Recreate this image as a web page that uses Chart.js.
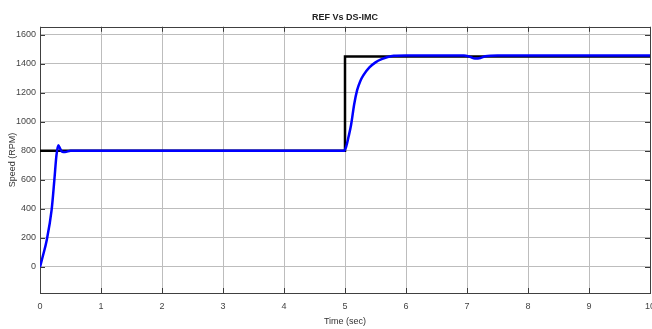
<!DOCTYPE html>
<html>
<head>
<meta charset="utf-8">
<script src="https://cdn.jsdelivr.net/npm/chart.js@4/dist/chart.umd.min.js"></script>
<style>
  html, body { margin: 0; padding: 0; background: #fff; }
  #wrap { width: 652px; height: 329px; }
</style>
</head>
<body>
<div id="wrap"><canvas id="chart" width="652" height="329"></canvas></div>
<script>
// REF Vs DS-IMC speed response

const refTime = [0, 5, 5, 10];
const refSpeed = [800, 800, 1450, 1450];

const imcTime = [0, 0.05, 0.11, 0.19, 0.235, 0.27, 0.3, 0.33, 0.36, 0.41, 0.5,
    4.98, 5.02, 5.06, 5.1, 5.15, 5.2, 5.25, 5.3, 5.4, 5.5, 5.6, 5.7, 5.8, 6.0,
    6.95, 7.05, 7.13, 7.22, 7.3, 7.5, 10];
const imcSpeed = [0, 80, 184, 391, 598, 770, 838, 815, 795, 792, 800,
    800, 830, 900, 980, 1120, 1220, 1280, 1320, 1375, 1410, 1432, 1447, 1455, 1458,
    1458, 1448, 1436, 1440, 1452, 1458, 1458];

const xTicks = [0, 1, 2, 3, 4, 5, 6, 7, 8, 9, 10];
const yTicks = [0, 200, 400, 600, 800, 1000, 1200, 1400, 1600];

const FONT = "'Liberation Sans Narrow', 'Liberation Sans', Arial, sans-serif";

const toPoints = (xs, ys) => xs.map((x, i) => ({ x: x, y: ys[i] }));

// box round the plot and MATLAB-style inward ticks
const boxPlugin = {
    id: 'box',
    beforeDatasetsDraw(chart) {
        const { ctx, chartArea: a, scales } = chart;
        ctx.save();
        ctx.strokeStyle = '#3a3a3a';
        ctx.lineWidth = 1;
        ctx.beginPath();
        const len = 5;
        xTicks.forEach(v => {
            const px = Math.round(scales.x.getPixelForValue(v)) + 0.5;
            ctx.moveTo(px, a.bottom); ctx.lineTo(px, a.bottom - len);
            ctx.moveTo(px, a.top); ctx.lineTo(px, a.top + len);
        });
        yTicks.forEach(v => {
            const py = Math.round(scales.y.getPixelForValue(v)) + 0.5;
            ctx.moveTo(a.left, py); ctx.lineTo(a.left + len, py);
            ctx.moveTo(a.right, py); ctx.lineTo(a.right - len, py);
        });
        ctx.stroke();
        ctx.strokeStyle = '#404040';
        ctx.strokeRect(Math.round(a.left) + 0.5, Math.round(a.top) + 0.5,
            Math.round(a.right - a.left), Math.round(a.bottom - a.top));
        ctx.restore();
    }
};

const ctx = document.getElementById('chart').getContext('2d');
const chart = new Chart(ctx, {
    type: 'line',
    data: {
        datasets: [{
            label: 'DS-IMC',
            data: toPoints(imcTime, imcSpeed),
            borderColor: '#0000ff',
            borderWidth: 2.5,
            pointRadius: 0,
            cubicInterpolationMode: 'monotone',
            fill: false,
        }, {
            label: 'REF',
            data: toPoints(refTime, refSpeed),
            borderColor: '#000000',
            borderWidth: 2.5,
            pointRadius: 0,
            tension: 0,
            fill: false,
        }],
    },
    options: {
        responsive: false,
        animation: false,
        layout: { padding: { left: 0, right: 2, top: 0, bottom: 0 } },
        plugins: {
            legend: { display: false },
            tooltip: { enabled: false },
            title: {
                display: true,
                text: 'REF Vs DS-IMC',
                fullSize: false,
                color: '#222',
                font: { family: FONT, size: 9, weight: 'bold' },
                padding: { top: 12, bottom: 4 },
            },
        },
        scales: {
            x: {
                type: 'linear',
                min: 0,
                max: 10,
                afterBuildTicks: s => { s.ticks = xTicks.map(v => ({ value: v })); },
                afterFit: s => { s.height = 36; s.paddingRight = 0; s.paddingLeft = 0; },
                grid: { color: '#bdbdbd', lineWidth: 1, drawTicks: false },
                border: { display: false },
                ticks: {
                    color: '#444',
                    font: { family: FONT, size: 9 },
                    padding: 8,
                    maxRotation: 0,
                    autoSkip: false,
                    callback: v => String(v),
                },
                title: {
                    display: true,
                    text: 'Time (sec)',
                    color: '#333',
                    font: { family: FONT, size: 9 },
                    padding: { top: 0, bottom: 2 },
                },
            },
            y: {
                type: 'linear',
                min: -180,
                max: 1655,
                afterBuildTicks: s => { s.ticks = yTicks.map(v => ({ value: v })); },
                afterFit: s => { s.width = 40; s.paddingTop = 0; s.paddingBottom = 0; },
                grid: { color: '#bdbdbd', lineWidth: 1, drawTicks: false },
                border: { display: false },
                ticks: {
                    color: '#444',
                    font: { family: FONT, size: 9 },
                    padding: 4,
                    callback: v => String(v),
                },
                title: {
                    display: true,
                    text: 'Speed (RPM)',
                    color: '#333',
                    font: { family: FONT, size: 9 },
                    padding: { top: 7, bottom: 0 },
                },
            },
        },
    },
    plugins: [boxPlugin],
});
</script>
</body>
</html>
